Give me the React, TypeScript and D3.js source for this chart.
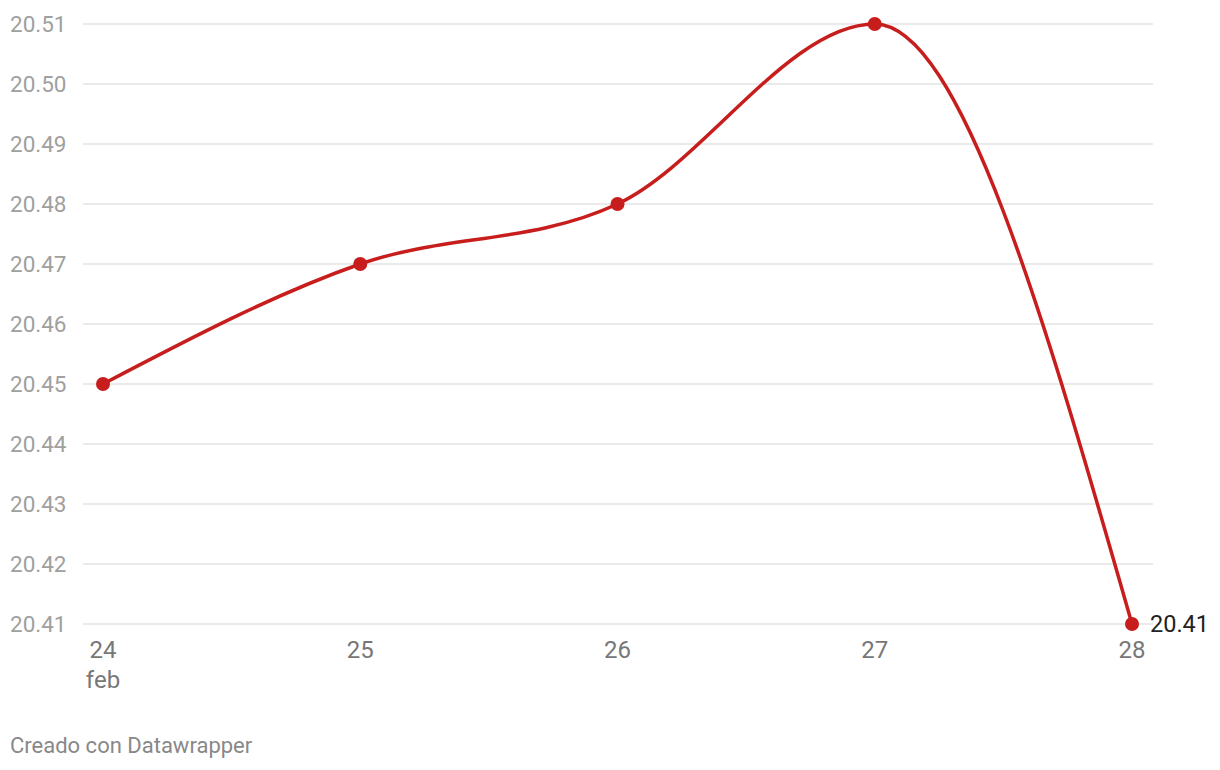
import React, { useEffect } from "react";
import * as d3 from "d3";

const days = [24, 25, 26, 27, 28];
const values = [20.45, 20.47, 20.48, 20.51, 20.41];
const yTicks = [20.41, 20.42, 20.43, 20.44, 20.45, 20.46, 20.47, 20.48, 20.49, 20.5, 20.51];
const monthLabel = "feb";
const footer = "Creado con Datawrapper";

const W = 1220;
const H = 770;

export default function App() {
  useEffect(() => {
    document.body.style.margin = "0";
  }, []);
  const x = d3.scaleLinear().domain([24, 28]).range([103, 1132]);
  const y = d3.scaleLinear().domain([20.41, 20.51]).range([624, 24]);
  const line = d3
    .line<number>()
    .x((_, i) => x(days[i]))
    .y((d) => y(d))
    .curve(d3.curveMonotoneX);
  const font = "Roboto, 'Noto Sans', sans-serif";
  return (
    <svg width={W} height={H} style={{ display: "block", fontFamily: font }}>
      <rect width={W} height={H} fill="#fff" />
      {yTicks.map((t) => (
        <g key={t}>
          <line x1={83} x2={1153} y1={y(t)} y2={y(t)} stroke="#e3e3e3" strokeWidth={1.5} />
          <text x={10} y={y(t)} dy="0.35em" fontSize={22.5} fill="#a0a0a0">
            {t.toFixed(2)}
          </text>
        </g>
      ))}
      {days.map((d) => (
        <text key={d} x={x(d)} y={658} textAnchor="middle" fontSize={24} fill="#777">
          {d}
        </text>
      ))}
      <text x={x(24)} y={688} textAnchor="middle" fontSize={24} fill="#777">
        {monthLabel}
      </text>
      <path d={line(values) || ""} fill="none" stroke="#c71e1d" strokeWidth={3.5} />
      {values.map((v, i) => (
        <circle key={i} cx={x(days[i])} cy={y(v)} r={7} fill="#c71e1d" />
      ))}
      <text x={x(28) + 18} y={y(values[4])} dy="0.35em" fontSize={23.5} fill="#222">
        {values[4].toFixed(2)}
      </text>
      <text x={10} y={753} fontSize={22} fill="#888">
        {footer}
      </text>
    </svg>
  );
}
